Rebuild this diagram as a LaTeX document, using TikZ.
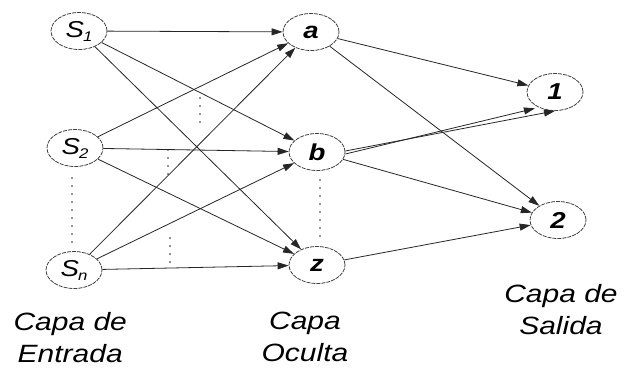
\documentclass[tikz,border=0pt]{standalone}
\usepackage{fontspec}
\setmainfont{Liberation Sans}
\newfontfamily\widefont[FakeStretch=1.2]{Liberation Sans}
\usetikzlibrary{shapes.geometric,arrows.meta}
\begin{document}
\begin{tikzpicture}[x=1pt,y=-1pt,
  neuron/.style={ellipse,draw=black!75,line width=0.8pt,dash pattern=on 4pt off 1pt,
    minimum width=56pt,minimum height=37pt,inner sep=0pt,
    font=\widefont\fontsize{23}{23}\selectfont\itshape},
  hid/.style={neuron,font=\widefont\fontsize{23}{23}\selectfont\bfseries\itshape},
  link/.style={draw=black!85,line width=0.8pt,-{Triangle[length=11pt,width=7pt]}},
  layer/.style={align=center,font=\widefont\fontsize{25}{32}\selectfont\itshape},
  dots/.style={draw=black!85,line width=1.8pt,line cap=round,dash pattern=on 0pt off 8pt}]
\useasboundingbox (0,0) rectangle (629,367);
% input layer
\node[neuron] (s1) at (79,31) {S\kern-1pt\raisebox{-4pt}{\fontsize{14}{14}\selectfont 1}};
\node[neuron] (s2) at (75,148) {S\kern-1pt\raisebox{-4pt}{\fontsize{14}{14}\selectfont 2}};
\node[neuron] (sn) at (74,270) {S\kern-1pt\raisebox{-4pt}{\fontsize{14}{14}\selectfont n}};
% hidden layer
\node[hid] (a) at (311,32) {a};
\node[hid] (b) at (317,152) {b};
\node[hid] (z) at (317,265) {z};
% output layer
\node[hid] (o1) at (555,92) {1};
\node[hid] (o2) at (558,220) {2};
% input to hidden
\foreach \i in {s1,s2,sn}
  \foreach \h in {a,b,z}
    \draw[link] (\i) -- (\h);
% hidden to output
\draw[link] (a) -- (o1);
\draw[link] (a) -- (o2);
\draw[link] ([yshift=-2pt]b.east) -- ([yshift=-3pt]o1.south west);
\draw[link] ([yshift=1pt]b.east) -- (o1.south);
\draw[link] (b) -- (o2);
\draw[link] (z) -- (o2);
% ellipsis dots
\path[dots] (72,178) -- (72,246);
\path[dots] (320,180) -- (320,236);
\path[dots] (200,98) -- (200,126);
\path[dots] (168,150) -- (168,174);
\path[dots] (170,238) -- (170,262);
% layer captions (base = baseline of the last line)
\node[layer,anchor=base west] (capin) at (10,362) {Capa de\\Entrada};
\node[layer,anchor=base] (caphid) at (305,361) {Capa\\Oculta};
\node[layer,anchor=base] (capout) at (561,334) {Capa de\\Salida};
\end{tikzpicture}
\end{document}
